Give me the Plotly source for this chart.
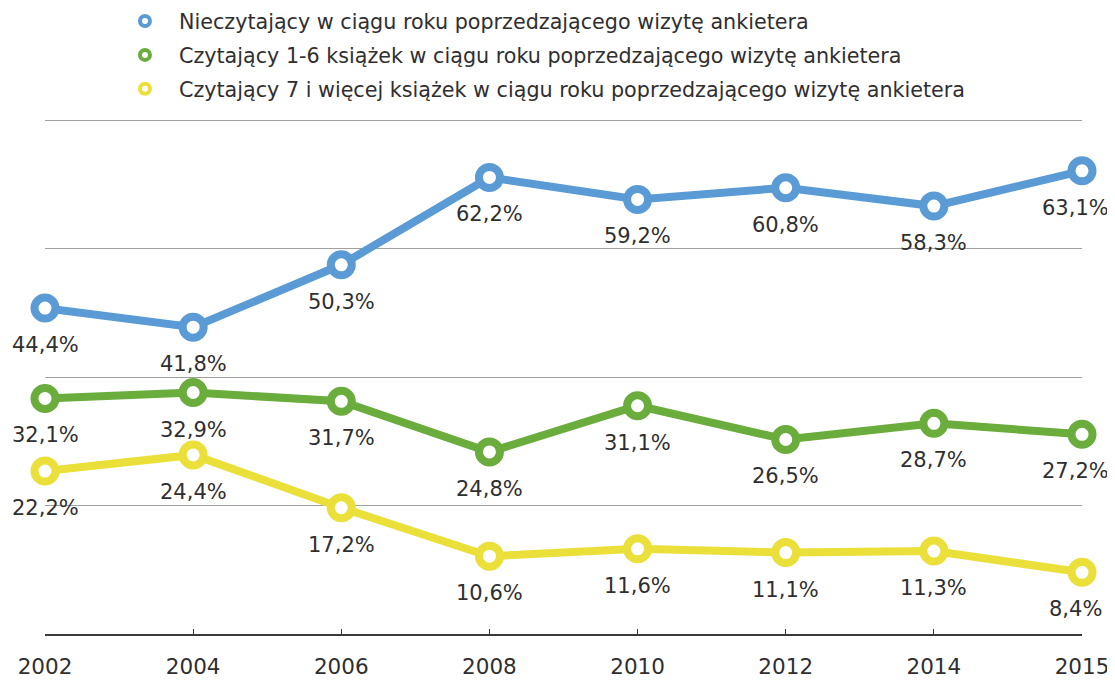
import plotly.graph_objects as go

years = ["2002", "2004", "2006", "2008", "2010", "2012", "2014", "2015"]
non_readers = [44.4, 41.8, 50.3, 62.2, 59.2, 60.8, 58.3, 63.1]
readers_1_6 = [32.1, 32.9, 31.7, 24.8, 31.1, 26.5, 28.7, 27.2]
readers_7plus = [22.2, 24.4, 17.2, 10.6, 11.6, 11.1, 11.3, 8.4]

names = [
    "Nieczytający w ciągu roku poprzedzającego wizytę ankietera",
    "Czytający 1-6 książek w ciągu roku poprzedzającego wizytę ankietera",
    "Czytający 7 i więcej książek w ciągu roku poprzedzającego wizytę ankietera",
]
colors = ["#5b9bd5", "#6aad3d", "#ebe03a"]
series = [non_readers, readers_1_6, readers_7plus]

FONT = "DejaVu Sans"
TXT = "#2f2f2f"

fig = go.Figure()

for name, vals, col in zip(names, series, colors):
    fig.add_trace(go.Scatter(
        x=years, y=vals, mode="lines+markers", showlegend=False,
        line=dict(color=col, width=8),
        marker=dict(symbol="circle", size=21, color="white",
                    line=dict(color=col, width=8)),
        cliponaxis=False, hoverinfo="skip",
    ))

for i, (name, col) in enumerate(zip(names, colors)):
    fig.add_trace(go.Scatter(
        x=[None], y=[None], mode="markers", name=name, legendgroup=f"g{i}",
        marker=dict(symbol="circle", size=10, color="white",
                    line=dict(color=col, width=4)),
    ))

annotations = []
last = len(years) - 1
for vals in series:
    for j, v in enumerate(vals):
        xs = -7 if j == last else 0
        annotations.append(dict(
            x=j, y=v, xref="x", yref="y",
            text=f"{v:.1f}%".replace(".", ","), showarrow=False,
            yshift=-37, xshift=xs,
            font=dict(family=FONT, size=21, color=TXT),
        ))

fig.update_layout(
    width=1107, height=673,
    margin=dict(l=37, r=33, t=110, b=47, autoexpand=False),
    paper_bgcolor="white", plot_bgcolor="white",
    font=dict(family=FONT, color=TXT),
    annotations=annotations,
    legend=dict(
        x=0.0636, y=1.2267, xanchor="left", yanchor="top",
        font=dict(family=FONT, size=20.7, color=TXT),
        tracegroupgap=4, bgcolor="rgba(0,0,0,0)", itemwidth=58,
    ),
    xaxis=dict(
        type="category", range=[0, last], showgrid=False,
        showline=True, linecolor="#3a3a3a", linewidth=1.5,
        ticks="inside", ticklen=5, tickcolor="#3a3a3a", tickwidth=1,
        tickfont=dict(family=FONT, size=21.5, color=TXT),
        ticklabelstandoff=12,
        zeroline=False, fixedrange=True,
    ),
    yaxis=dict(
        range=[0, 70.3], tick0=0, dtick=17.5, showticklabels=False,
        showgrid=True, gridcolor="#a0a0a0", gridwidth=1,
        zeroline=False, showline=False, ticks="",
    ),
)

fig.write_html("out.html")
